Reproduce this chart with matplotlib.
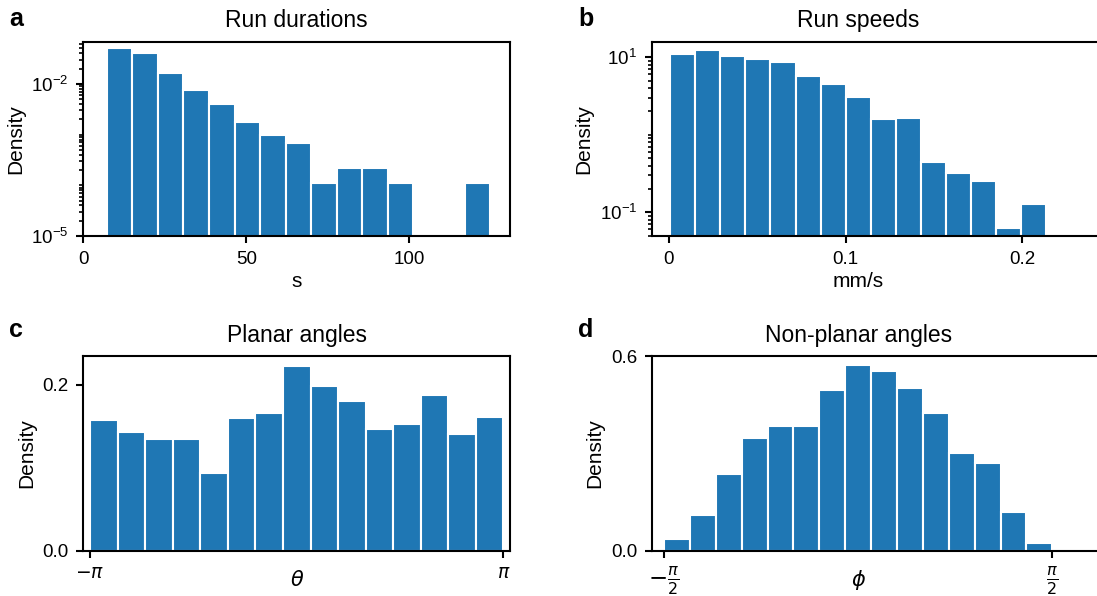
import numpy as np
import matplotlib as mpl
mpl.use('Agg')
import matplotlib.pyplot as plt
from matplotlib.ticker import FixedLocator, LogLocator, NullFormatter, LogFormatterSciNotation

mpl.rcParams['font.family'] = ['Liberation Sans', 'DejaVu Sans']
mpl.rcParams['xtick.labelsize'] = 9
mpl.rcParams['ytick.labelsize'] = 9
mpl.rcParams['axes.labelsize'] = 10
mpl.rcParams['axes.titlesize'] = 11
mpl.rcParams['axes.linewidth'] = 1.0
mpl.rcParams['xtick.major.width'] = 1.0
mpl.rcParams['ytick.major.width'] = 1.0
mpl.rcParams['ytick.minor.width'] = 0.8

# histogram values (density per bin, 15 bins each)
dur_range = (7.16, 124.76)   # s
dur_density = [0.0506, 0.0403, 0.01625, 0.00762, 0.00397, 0.00178, 0.00100,
               0.000676, 0.000111, 0.000223, 0.000223, 0.000111, 0.0, 0.0, 0.000111]

speed_range = (0.0009, 0.2134)   # mm/s
speed_density = [10.9, 12.2, 10.5, 9.5, 8.7, 5.79, 4.49, 3.10, 1.60, 1.65,
                 0.441, 0.318, 0.253, 0.0633, 0.127]

theta_range = (-np.pi, np.pi)
theta_density = [0.157, 0.143, 0.135, 0.135, 0.094, 0.160, 0.166, 0.223,
                 0.198, 0.180, 0.147, 0.153, 0.188, 0.141, 0.161]

phi_range = (-np.pi / 2, np.pi / 2)
phi_density = [0.036, 0.109, 0.237, 0.347, 0.384, 0.384, 0.495, 0.572,
               0.553, 0.502, 0.425, 0.302, 0.269, 0.118, 0.023]

BLUE = '#1f77b4'

fig = plt.figure(figsize=(1097 / 150., 596 / 150.), dpi=150)

ax_a = fig.add_axes([0.0760, 0.6040, 0.3890, 0.3262])
ax_b = fig.add_axes([0.5941, 0.6040, 0.4178, 0.3262])
ax_c = fig.add_axes([0.0760, 0.0760, 0.3890, 0.3265])
ax_d = fig.add_axes([0.5941, 0.0760, 0.4178, 0.3265])


def draw_hist(ax, rng, density):
    edges = np.linspace(rng[0], rng[1], len(density) + 1)
    ax.bar(edges[:-1], density, width=np.diff(edges), align='edge',
           color=BLUE, edgecolor='white', linewidth=1.0)


def log_ticks(ax, majors):
    ax.set_yscale('log')
    ax.yaxis.set_major_locator(FixedLocator(majors))
    ax.yaxis.set_major_formatter(LogFormatterSciNotation())
    ax.yaxis.set_minor_locator(LogLocator(base=10, subs=np.arange(1, 10) * 1.0, numticks=100))
    ax.yaxis.set_minor_formatter(NullFormatter())


# a - run durations
draw_hist(ax_a, dur_range, dur_density)
log_ticks(ax_a, [1e-5, 1e-2])
ax_a.set_ylim(1e-5, 10 ** -1.165)
ax_a.set_xlim(0, 130.9)
ax_a.set_xticks([0, 50, 100])
ax_a.set_title('Run durations', pad=7)
ax_a.set_xlabel('s', labelpad=2)
ax_a.set_ylabel('Density', labelpad=3)

# b - run speeds
draw_hist(ax_b, speed_range, speed_density)
log_ticks(ax_b, [1e-1, 1e1])
ax_b.set_ylim(10 ** -1.306, 10 ** 1.201)
ax_b.set_xlim(-0.0096, 0.2496)
ax_b.set_xticks([0, 0.1, 0.2])
ax_b.set_xticklabels(['0', '0.1', '0.2'])
ax_b.set_title('Run speeds', pad=7, x=0.451)
ax_b.set_xlabel('mm/s', labelpad=2, x=0.451)
ax_b.set_ylabel('Density', labelpad=3)

# c - planar angles
draw_hist(ax_c, theta_range, theta_density)
ax_c.set_ylim(0, 0.2346)
ax_c.set_yticks([0, 0.2])
ax_c.set_xlim(-np.pi - 0.102, np.pi + 0.102)
ax_c.set_xticks([-np.pi, np.pi])
ax_c.set_xticklabels([r'$-\pi$', r'$\pi$'])
ax_c.set_title('Planar angles', pad=7)
ax_c.set_xlabel(r'$\theta$', labelpad=-6)
ax_c.set_ylabel('Density', labelpad=3)

# d - non-planar angles
draw_hist(ax_d, phi_range, phi_density)
ax_d.set_ylim(0, 0.6)
ax_d.set_yticks([0, 0.6])
ax_d.set_xlim(-np.pi / 2 - 0.0995, 2.038)
ax_d.set_xticks([-np.pi / 2, np.pi / 2])
ax_d.set_xticklabels([r'$-\frac{\pi}{2}$', r'$\frac{\pi}{2}$'], fontsize=11)
ax_d.set_title('Non-planar angles', pad=7, x=0.451)
ax_d.set_xlabel(r'$\phi$', labelpad=-14, x=0.451)
ax_d.set_ylabel('Density', labelpad=3)

# panel letters
for lbl, x, y in [('a', 0.0082, 0.9564), ('b', 0.5269, 0.9564),
                  ('c', 0.0082, 0.4351), ('d', 0.5269, 0.4351)]:
    fig.text(x, y, lbl, fontsize=12, fontweight='bold', va='baseline', ha='left')

fig.savefig('out.png', dpi=150)
